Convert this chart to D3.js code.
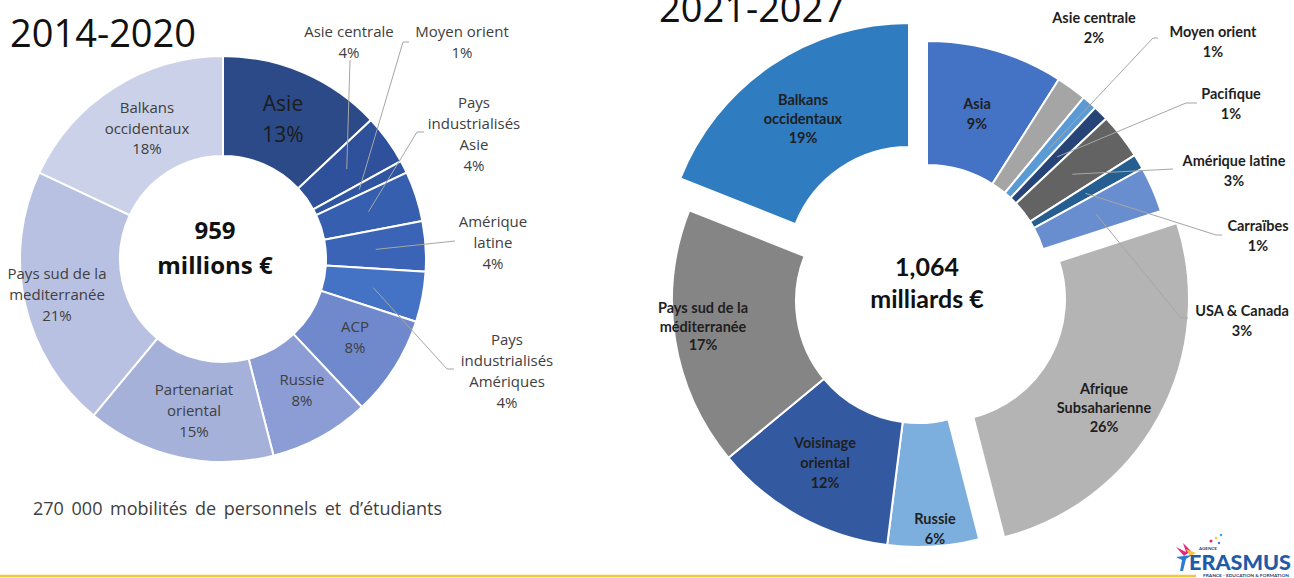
<!DOCTYPE html>
<html>
<head>
<meta charset="utf-8">
<script src="https://cdn.jsdelivr.net/npm/d3@7"></script>
<style>
  body { margin: 0; background: #fff; }
  svg { display: block; }
</style>
</head>
<body>
<div id="chart"></div>
<script>
// 2014-2020 (left donut)
const leftNames = ["Asie", "Asie centrale", "Moyen orient", "Pays\nindustrialisés\nAsie", "Amérique\nlatine",
  "Pays\nindustrialisés\nAmériques", "ACP", "Russie", "Partenariat\noriental", "Pays sud de la\nmediterranée", "Balkans\noccidentaux"]
const leftValues = [13, 4, 1, 4, 4, 4, 8, 8, 15, 21, 18]
const leftTotal = ["959", "millions €"]

// 2021-2027 (right donut)
const rightNames = ["Asia", "Asie centrale", "Moyen orient", "Pacifique", "Amérique latine", "Carraïbes", "USA & Canada",
  "Afrique\nSubsaharienne", "Russie", "Voisinage\noriental", "Pays sud de la\nméditerranée", "Balkans\noccidentaux"]
const rightValues = [9, 2, 1, 1, 3, 1, 3, 26, 6, 12, 17, 19]
const rightTotal = ["1,064", "milliards €"]

const titles = ["2014-2020", "2021-2027"]
const footNote = "270 000 mobilités de personnels et d’étudiants"

const W = 1294, H = 578

const svg = d3.select("#chart").append("svg")
  .attr("width", W)
  .attr("height", H)

// colours, label placement (block centre) and leader attach points
const left = {
  cx: 223, cy: 259, ri: 103, ro: 203, strokeW: 2,
  font: "'Open Sans', sans-serif", weight: 400, size: 15, lh: 21, textFill: "#404040",
  colors: ["#2b4a87", "#2f509a", "#3156a1", "#375faf", "#3b64b7", "#4472c4", "#6f89cc", "#8b9dd4", "#a5b1d9", "#b8c1e2", "#cad1e8"],
  explode: {},
  labels: [
    { x: 283, y: 118.5, size: 21, lh: 31, fill: "#1c1c1c" },
    { x: 349, y: 41.5, leader: [[350, 60]] },
    { x: 462, y: 41.5, leader: [[409, 42], [403, 42]] },
    { x: 474, y: 133, leader: [[424, 132], [417, 132]] },
    { x: 493, y: 242, leader: [[455, 241]] },
    { x: 507, y: 370.5, leader: [[454, 369], [447, 369]] },
    { x: 355, y: 336 },
    { x: 302, y: 389.5 },
    { x: 194, y: 410 },
    { x: 57, y: 293.5 },
    { x: 147, y: 127.5, lh: 20.5 }
  ],
  total: { x: 215, y1: 229, y2: 264, size: 24, font: "'Open Sans', sans-serif", weight: 700 }
}

const right = {
  cx: 918, cy: 301, ri: 122, ro: 246, strokeW: 2,
  font: "Lato, sans-serif", weight: 700, size: 14.5, lh: 20, textFill: "#1f1f1f",
  colors: ["#4472c4", "#a5a5a5", "#5b9bd5", "#264478", "#636363", "#255e91", "#698ed0",
    "#b4b4b4", "#7cafdd", "#335aa1", "#858585", "#2f7cc1"],
  explode: {
    "Asia": [9, -14], "Asie centrale": [9, -14], "Moyen orient": [9, -14], "Pacifique": [9, -14],
    "Amérique latine": [9, -14], "Carraïbes": [9, -14], "USA & Canada": [9, -14],
    "Afrique\nSubsaharienne": [25, -2],
    "Balkans\noccidentaux": [-9, -32]
  },
  labels: [
    { x: 977, y: 113.5 },
    { x: 1094, y: 27.5 },
    { x: 1213, y: 41, leader: [[1158, 38], [1153, 38]] },
    { x: 1231, y: 103.5, leader: [[1197, 103], [1186, 103]] },
    { x: 1234, y: 170, leader: [[1173, 169]] },
    { x: 1258, y: 235, leader: [[1222, 235], [1216, 235]] },
    { x: 1242, y: 320, leader: [[1188, 318], [1181, 318]] },
    { x: 1104, y: 407, lh: 19 },
    { x: 935, y: 528 },
    { x: 825, y: 462 },
    { x: 703, y: 326, lh: 18.5 },
    { x: 803, y: 118, lh: 19 }
  ],
  total: { x: 927, y1: 266, y2: 298, size: 25, font: "Lato, sans-serif", weight: 700 }
}

function drawDonut(names, values, totals, cfg) {
  const data = names.map((n, i) => ({ name: n, value: values[i] }))
  const pie = d3.pie().sort(null).value(d => d.value)
  const arcs = pie(data)
  const arc = d3.arc().innerRadius(cfg.ri).outerRadius(cfg.ro)
  const shift = d => cfg.explode[d.data.name] || [0, 0]

  const g = svg.append("g")
    .attr("transform", `translate(${cfg.cx}, ${cfg.cy})`)

  g.selectAll("path")
    .data(arcs)
    .join("path")
      .attr("d", arc)
      .attr("transform", d => `translate(${shift(d)[0]}, ${shift(d)[1]})`)
      .attr("fill", (d, i) => cfg.colors[i])
      .attr("stroke", "#fff")
      .attr("stroke-width", cfg.strokeW)

  // leader lines: from label to the slice centroid
  const line = d3.line()
  arcs.forEach((d, i) => {
    const lab = cfg.labels[i]
    if (!lab.leader) return
    const c = arc.centroid(d)
    const s = shift(d)
    const pts = lab.leader.concat([[cfg.cx + c[0] + s[0], cfg.cy + c[1] + s[1]]])
    svg.append("path")
      .attr("d", line(pts))
      .attr("fill", "none")
      .attr("stroke", "#a6a6a6")
      .attr("stroke-width", 1)
  })

  // data labels
  arcs.forEach((d, i) => {
    const lab = cfg.labels[i]
    const lines = d.data.name.split("\n").concat([d.data.value + "%"])
    const lh = lab.lh || cfg.lh
    const t = svg.append("text")
      .attr("text-anchor", "middle")
      .attr("font-family", cfg.font)
      .attr("font-weight", cfg.weight)
      .attr("font-size", (lab.size || cfg.size) + "px")
      .attr("fill", lab.fill || cfg.textFill)
    lines.forEach((s, k) => {
      t.append("tspan")
        .attr("x", lab.x)
        .attr("y", lab.y - (lines.length - 1) * lh / 2 + k * lh)
        .attr("dominant-baseline", "central")
        .text(s)
    })
  })

  // total in the hole
  const tt = cfg.total
  ;[tt.y1, tt.y2].forEach((y, k) => {
    svg.append("text")
      .attr("x", tt.x)
      .attr("y", y)
      .attr("text-anchor", "middle")
      .attr("dominant-baseline", "central")
      .attr("font-family", tt.font)
      .attr("font-weight", tt.weight)
      .attr("font-size", tt.size + "px")
      .attr("fill", "#111")
      .text(totals[k])
  })
}

drawDonut(leftNames, leftValues, leftTotal, left)
drawDonut(rightNames, rightValues, rightTotal, right)

// titles (the second one sits at the top edge, cut off like in the slide)
svg.append("text")
  .attr("x", 10).attr("y", 47)
  .attr("font-family", "'Open Sans', sans-serif")
  .attr("font-size", "38px")
  .attr("fill", "#111")
  .text(titles[0])

svg.append("text")
  .attr("x", 659).attr("y", 22)
  .attr("font-family", "'Open Sans', sans-serif")
  .attr("font-size", "38px")
  .attr("fill", "#111")
  .text(titles[1])

// foot note
svg.append("text")
  .attr("x", 33).attr("y", 508)
  .attr("dominant-baseline", "central")
  .attr("font-family", "'Open Sans', sans-serif")
  .attr("font-size", "18px")
  .attr("word-spacing", "3px")
  .attr("fill", "#404040")
  .text(footNote)

// bottom yellow rule
svg.append("line")
  .attr("x1", 0).attr("x2", 1196)
  .attr("y1", 576).attr("y2", 576)
  .attr("stroke", "#f4c73a")
  .attr("stroke-width", 2.5)

// Erasmus logo (rough)
const logo = svg.append("g")
logo.append("circle").attr("cx", 1211).attr("cy", 541).attr("r", 1.6).attr("fill", "#e5287f")
logo.append("circle").attr("cx", 1216).attr("cy", 538).attr("r", 1.3).attr("fill", "#f4c73a")
logo.append("circle").attr("cx", 1221).attr("cy", 535).attr("r", 1.2).attr("fill", "#2ea6df")
logo.append("circle").attr("cx", 1219).attr("cy", 543).attr("r", 1.2).attr("fill", "#3d7fd0")
logo.append("path").attr("d", "M1176,547 L1186,552 L1183,543 L1191,551 L1184,556 Z").attr("fill", "#e5287f")
logo.append("path").attr("d", "M1186,549 L1196,553 L1190,556 Z").attr("fill", "#f4c73a")
logo.append("path").attr("d", "M1176,557 L1192,555 L1186,559 L1183,571 L1180,571 L1182,560 Z").attr("fill", "#2b7bd0")
logo.append("text")
  .attr("x", 1199).attr("y", 550)
  .attr("font-family", "Lato, sans-serif").attr("font-weight", 700)
  .attr("font-size", "4.5px").attr("fill", "#1f3f7a")
  .text("AGENCE")
logo.append("text")
  .attr("x", 1189).attr("y", 570)
  .attr("font-family", "Lato, sans-serif").attr("font-weight", 900)
  .attr("font-size", "20px").attr("fill", "#1f5ba7")
  .attr("textLength", 102).attr("lengthAdjust", "spacingAndGlyphs")
  .text("ERASMUS")
logo.append("text")
  .attr("x", 1203).attr("y", 577)
  .attr("font-family", "Lato, sans-serif").attr("font-weight", 700)
  .attr("font-size", "4.5px").attr("fill", "#1f3f7a")
  .attr("textLength", 86).attr("lengthAdjust", "spacingAndGlyphs")
  .text("FRANCE - EDUCATION & FORMATION")
</script>
</body>
</html>
